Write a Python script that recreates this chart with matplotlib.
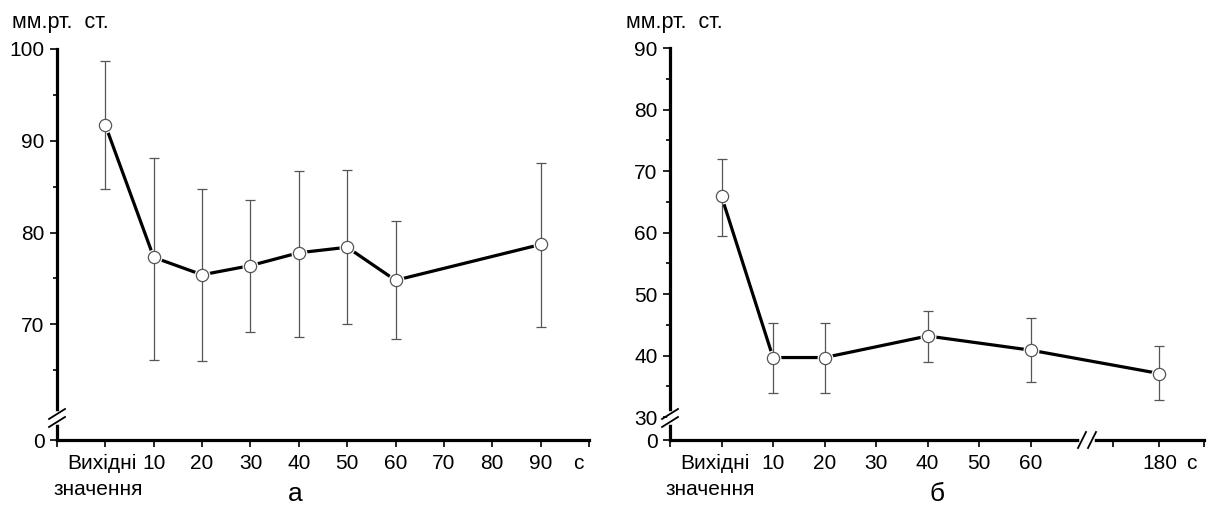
import numpy as np
import matplotlib
matplotlib.use("Agg")
import matplotlib.pyplot as plt
from matplotlib.ticker import FixedLocator
from matplotlib.transforms import ScaledTranslation

plt.rcParams["font.family"] = ["Liberation Sans", "DejaVu Sans"]

# panel а: time [c], mean and error bar ends [мм.рт.ст.]
times_a = [0, 10, 20, 30, 40, 50, 60, 90]
mean_a = [91.7, 77.3, 75.4, 76.4, 77.8, 78.4, 74.8, 78.7]
upper_a = [98.7, 88.1, 84.7, 83.5, 86.7, 86.8, 81.3, 87.6]
lower_a = [84.7, 66.1, 66.0, 69.2, 68.6, 70.0, 68.4, 69.7]

# panel б
times_b = [0, 10, 20, 40, 60, 180]
mean_b = [65.9, 39.7, 39.7, 43.2, 40.9, 37.1]
upper_b = [72.0, 45.3, 45.3, 47.3, 46.2, 41.5]
lower_b = [59.5, 34.0, 34.0, 39.0, 35.7, 32.8]

xticks_a = [-10, 0, 10, 20, 30, 40, 50, 60, 70, 80, 90, 100]
xlabels_a = ["", "Вихідні", "10", "20", "30", "40", "50", "60", "70", "80", "90", ""]
xticks_b = [-10, 0, 10, 20, 30, 40, 50, 60, 170, 180, 189.5]
xlabels_b = ["", "Вихідні", "10", "20", "30", "40", "50", "60", "", "180", ""]

W, H = 1210, 507
FS = 15


def broken(xp, fp):
    xp = np.asarray(xp, float)
    fp = np.asarray(fp, float)
    return (lambda v: np.interp(v, xp, fp), lambda v: np.interp(v, fp, xp))


def draw_panel(ax, t, m, lo, hi):
    m = np.asarray(m)
    yerr = [m - np.asarray(lo), np.asarray(hi) - m]
    ax.plot(t, m, color="black", lw=2.3, zorder=2, solid_capstyle="butt")
    ax.plot(t, m, "o", ms=11.5, mfc="white", mec="none", zorder=3)
    ax.errorbar(t, m, yerr=yerr, fmt="none", ecolor="#555555", elinewidth=0.9,
                capsize=3.5, capthick=0.9, zorder=4)
    ax.plot(t, m, "o", ms=8.8, mfc="white", mec="#555555", mew=0.9, zorder=5)


def style(ax, shift_px):
    for s in ["top", "right"]:
        ax.spines[s].set_visible(False)
    for s in ["left", "bottom"]:
        ax.spines[s].set_linewidth(2.3)
    ax.tick_params(which="major", length=5, width=1.2, labelsize=FS, pad=4)
    ax.tick_params(which="minor", length=3, width=1.2)
    ax.tick_params(axis="x", which="both", pad=5)
    labs = ax.get_xticklabels()
    labs[1].set_transform(labs[1].get_transform()
                          + ScaledTranslation(-shift_px / 100, 0, ax.figure.dpi_scale_trans))
    # second line of the "Вихідні значення" label
    ax.annotate("значення", xy=(0, 0), xycoords=("data", "axes fraction"),
                xytext=(-shift_px - 4, -55), textcoords="offset pixels",
                ha="center", va="baseline", fontsize=FS)


def ybreak(ax, yfrac, w_px, h_px):
    dx, dy = 1.0 / w_px, 1.0 / h_px
    ax.plot([0, 0], [yfrac - 4 * dy, yfrac + 4 * dy], color="white", lw=4,
            transform=ax.transAxes, clip_on=False, zorder=10)
    for off in (-4, 4):
        ax.plot([-8 * dx, 8 * dx], [yfrac + (off - 5) * dy, yfrac + (off + 5) * dy],
                color="black", lw=1.3, transform=ax.transAxes, clip_on=False, zorder=11)


def xbreak(ax, xfrac, w_px, h_px):
    dx, dy = 1.0 / w_px, 1.0 / h_px
    ax.plot([xfrac - 5 * dx, xfrac + 5 * dx], [0, 0], color="white", lw=4,
            transform=ax.transAxes, clip_on=False, zorder=10)
    for off in (-5, 5):
        ax.plot([xfrac + (off - 4) * dx, xfrac + (off + 4) * dx], [-8 * dy, 8 * dy],
                color="black", lw=1.3, transform=ax.transAxes, clip_on=False, zorder=11)


fig = plt.figure(figsize=(W / 100, H / 100), dpi=100)

# ---- panel а
wa, ha = 532, 391
ax_a = fig.add_axes([57 / W, 67 / H, wa / W, ha / H])
ax_a.set_yscale("function", functions=broken([-1000, 0, 59.8, 1000], [-942.6, 57.4, 59.8, 1000]))
draw_panel(ax_a, times_a, mean_a, lower_a, upper_a)
ax_a.set_xlim(-10, 100)
ax_a.set_ylim(0, 100)
ax_a.yaxis.set_major_locator(FixedLocator([0, 70, 80, 90, 100]))
ax_a.yaxis.set_minor_locator(FixedLocator([65, 75, 85, 95]))
ax_a.set_yticklabels(["0", "70", "80", "90", "100"])
ax_a.set_xticks(xticks_a)
ax_a.set_xticklabels(xlabels_a)
style(ax_a, 3)
ybreak(ax_a, 22 / ha, wa, ha)
ax_a.annotate("c", xy=(1, 0), xycoords="axes fraction", xytext=(-11, -14),
              textcoords="offset pixels", ha="center", va="top", fontsize=FS)

# ---- panel б
wb, hb = 534, 392
ax_b = fig.add_axes([670 / W, 67 / H, wb / W, hb / H])
ax_b.set_yscale("function", functions=broken([-1000, 0, 29.8, 1000], [-973.7, 26.3, 29.8, 1000]))
ax_b.set_xscale("function", functions=broken([-1000, 70, 170, 1000], [-1000, 70, 75.9, 75.9 + 830 * 0.91]))
draw_panel(ax_b, times_b, mean_b, lower_b, upper_b)
ax_b.set_xlim(-10, 189.5)
ax_b.set_ylim(0, 90)
ax_b.yaxis.set_major_locator(FixedLocator([0, 30, 40, 50, 60, 70, 80, 90]))
ax_b.yaxis.set_minor_locator(FixedLocator([35, 45, 55, 65, 75, 85]))
ax_b.set_yticklabels(["0", "30", "40", "50", "60", "70", "80", "90"])
ax_b.set_xticks(xticks_b)
ax_b.set_xticklabels(xlabels_b)
ax_b.xaxis.set_minor_locator(FixedLocator([]))
style(ax_b, 7)
ybreak(ax_b, 22 / hb, wb, hb)
xbreak(ax_b, (1087 - 670) / wb, wb, hb)
ax_b.annotate("c", xy=(1, 0), xycoords="axes fraction", xytext=(-13, -14),
              textcoords="offset pixels", ha="center", va="top", fontsize=FS)

# headers and panel letters
fig.text(12 / W, 1 - 28 / H, "мм.рт.  ст.", fontsize=15.5, va="baseline", ha="left")
fig.text(626 / W, 1 - 28 / H, "мм.рт.  ст.", fontsize=15.5, va="baseline", ha="left")
fig.text(295 / W, 1 - 501 / H, "а", fontsize=19, va="baseline", ha="center")
fig.text(937 / W, 1 - 501 / H, "б", fontsize=19, va="baseline", ha="center")

fig.savefig("out.png", dpi=100)
